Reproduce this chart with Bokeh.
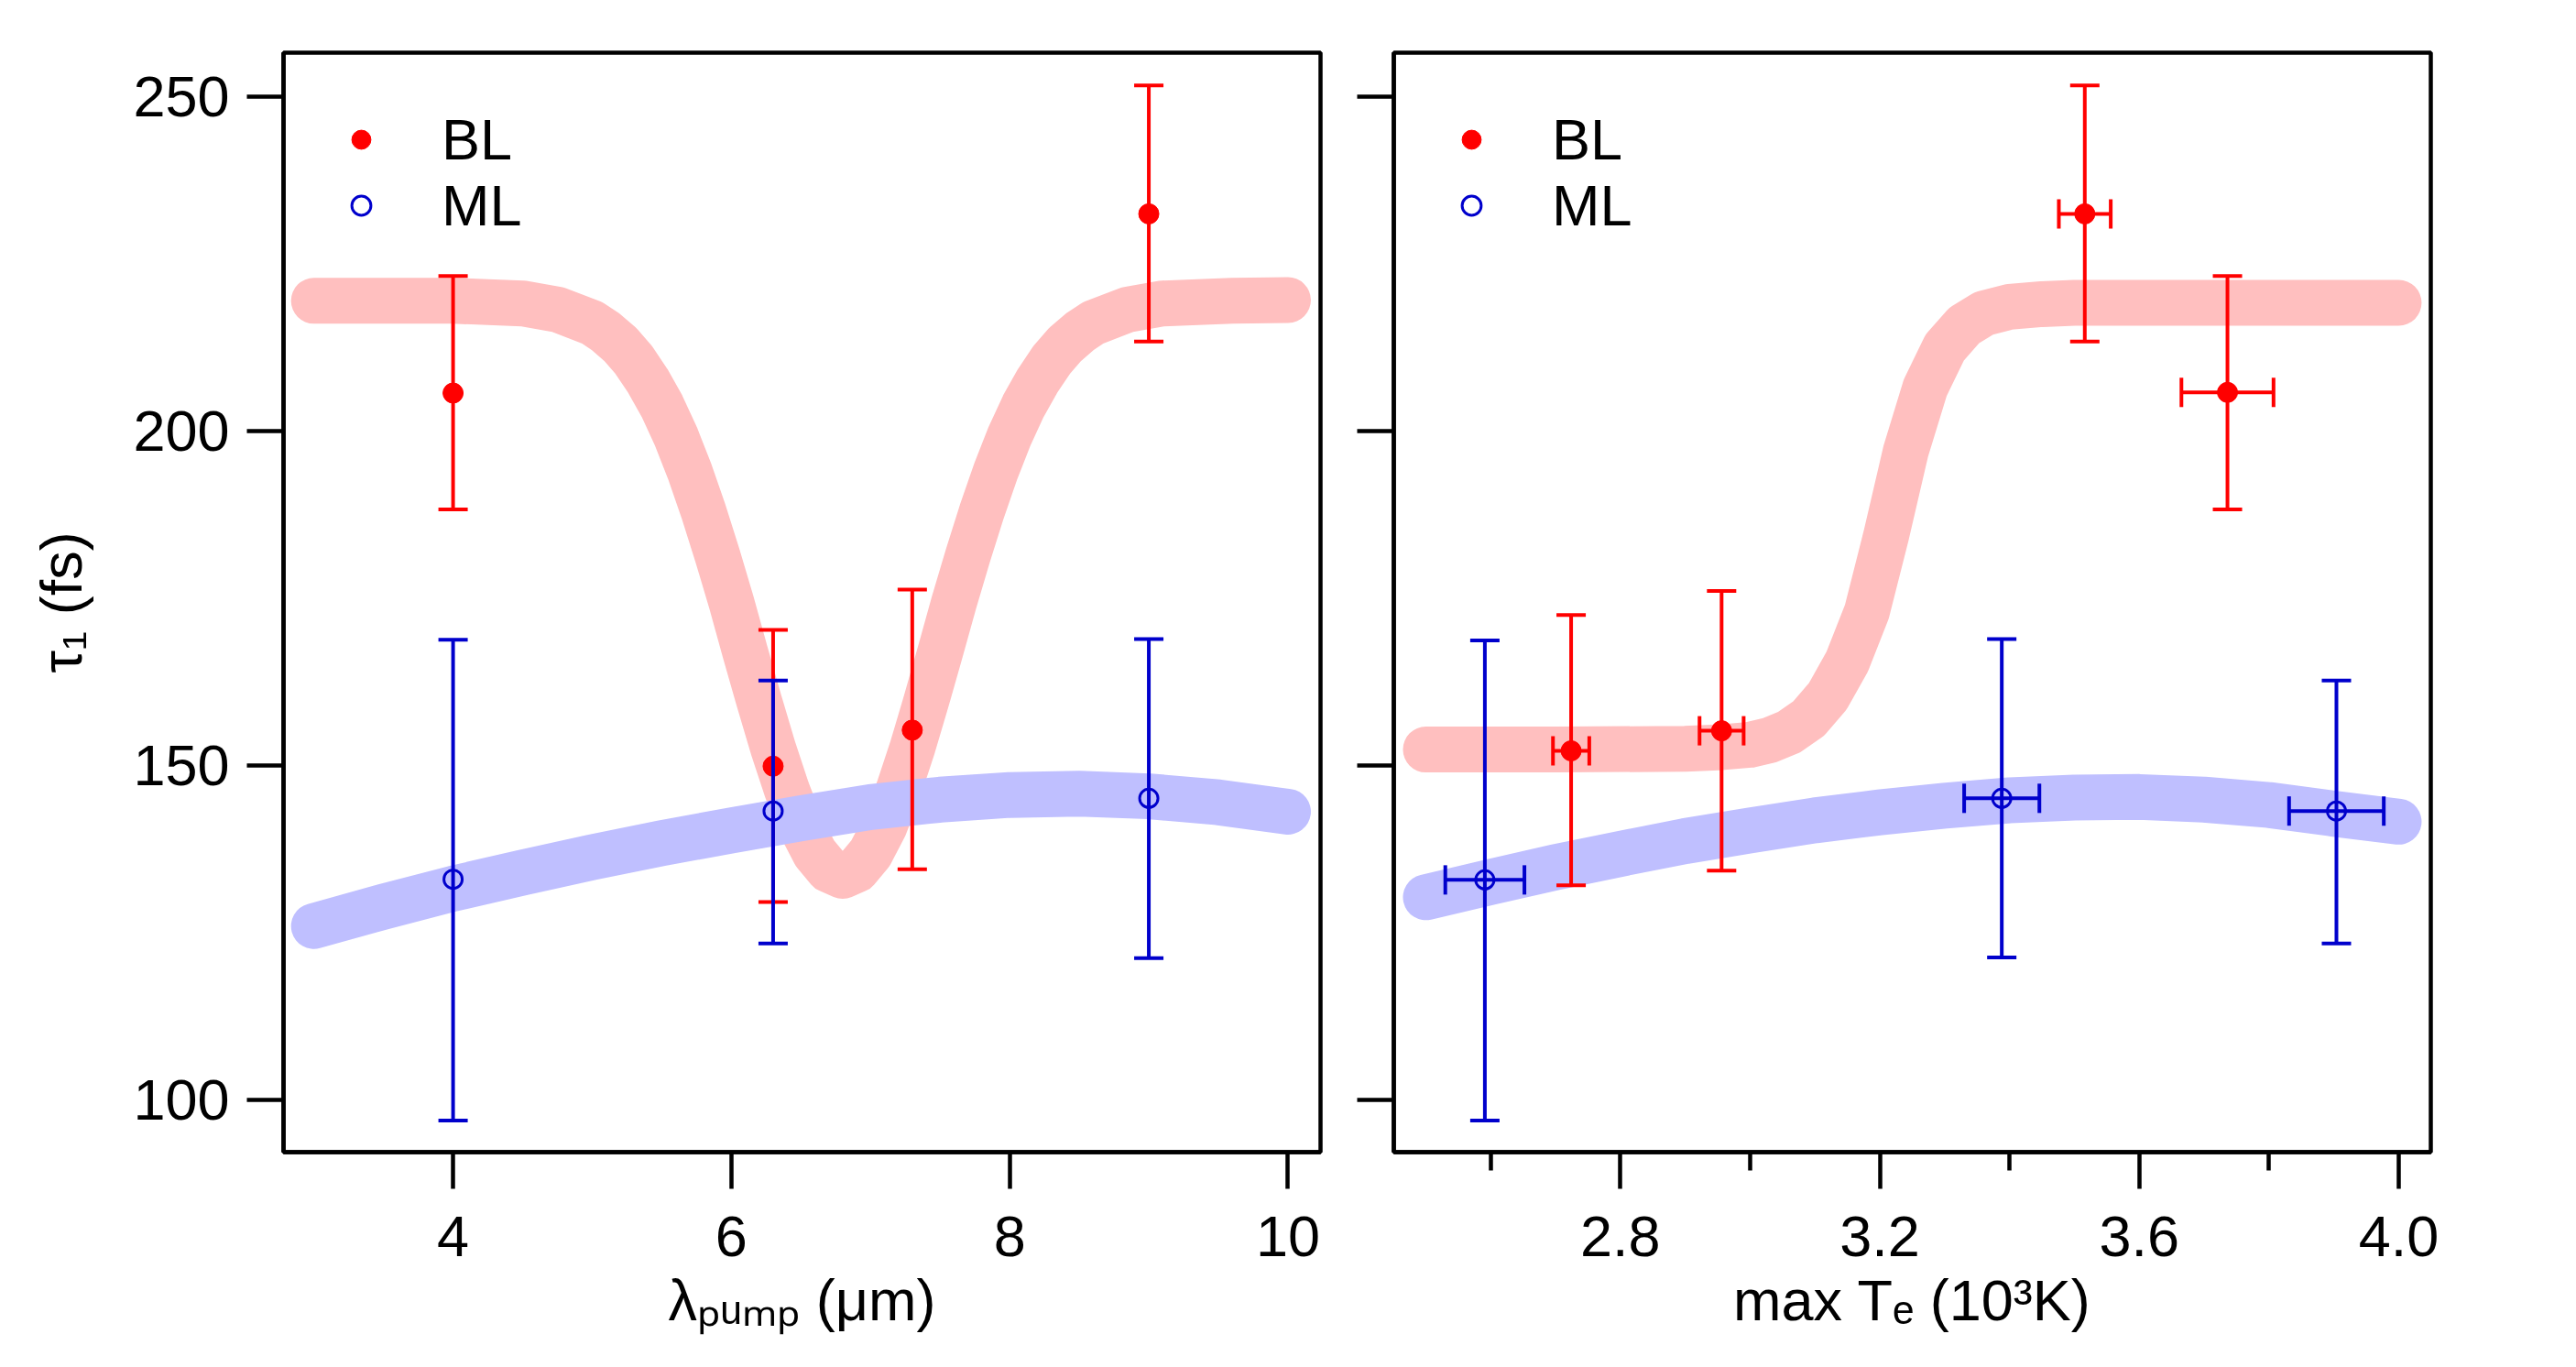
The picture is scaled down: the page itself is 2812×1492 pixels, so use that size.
from bokeh.plotting import figure
from bokeh.layouts import row
from bokeh.models import (Range1d, FixedTicker, Whisker, TeeHead, ColumnDataSource,
                          Legend, LegendItem, NumeralTickFormatter, CustomJSTickFormatter)
from bokeh.embed import file_html
from bokeh.resources import INLINE

# ---------------- data ----------------
# left panel: tau_1 vs pump wavelength (um)
bl_lambda = [4.0, 6.3, 7.3, 9.0]
bl_tau_l = [205.7, 149.9, 155.3, 232.5]
bl_tau_l_lo = [188.3, 129.6, 134.5, 213.4]
bl_tau_l_hi = [223.2, 170.3, 176.3, 251.7]

ml_lambda = [4.0, 6.3, 9.0]
ml_tau_l = [133.0, 143.2, 145.1]
ml_tau_l_lo = [96.9, 123.4, 121.2]
ml_tau_l_hi = [168.8, 162.7, 168.9]

# guide curves, left panel
fit_bl_lambda_x = [3.0, 3.5, 4.0, 4.5, 4.75, 5.0, 5.1, 5.2, 5.3, 5.4, 5.5, 5.6, 5.7, 5.8,
                   5.9, 6.0, 6.1, 6.2, 6.3, 6.4, 6.5, 6.6, 6.7, 6.8, 6.9, 7.0, 7.1, 7.2,
                   7.3, 7.4, 7.5, 7.6, 7.7, 7.8, 7.9, 8.0, 8.1, 8.2, 8.3, 8.4, 8.5, 8.6,
                   8.85, 9.1, 9.6, 10.0]
fit_bl_lambda_y = [219.5, 219.5, 219.5, 219.1, 218.2, 216.2, 214.8, 213.0, 210.6, 207.5,
                   203.8, 199.3, 194.0, 188.0, 181.4, 174.4, 166.9, 159.6, 152.6, 146.3,
                   140.9, 136.9, 134.4, 133.5, 134.4, 136.9, 140.9, 146.3, 152.6, 159.6,
                   166.9, 174.4, 181.4, 188.0, 194.0, 199.3, 203.8, 207.5, 210.6, 213.0,
                   214.8, 216.2, 218.2, 219.1, 219.5, 219.6]
fit_ml_lambda_x = [3.0, 3.5, 4.0, 4.5, 5.0, 5.5, 6.0, 6.5, 7.0, 7.5, 8.0, 8.5, 9.0, 9.5, 10.0]
fit_ml_lambda_y = [126.0, 128.9, 131.6, 134.0, 136.3, 138.4, 140.3, 142.1, 143.8, 144.9,
                   145.6, 145.8, 145.4, 144.5, 143.1]

# right panel: tau_1 vs max electron temperature (10^3 K)
bl_te = [2.724, 2.956, 3.516, 3.736]
bl_te_err = [0.028, 0.034, 0.040, 0.071]
bl_tau_r = [152.2, 155.2, 232.5, 205.8]
bl_tau_r_lo = [132.1, 134.3, 213.4, 188.3]
bl_tau_r_hi = [172.5, 176.1, 251.7, 223.2]

ml_te = [2.591, 3.388, 3.904]
ml_te_err = [0.061, 0.058, 0.073]
ml_tau_r = [132.9, 145.1, 143.2]
ml_tau_r_lo = [96.9, 121.3, 123.4]
ml_tau_r_hi = [168.7, 168.9, 162.7]

fit_bl_te_x = [2.5, 2.7, 2.9, 2.95, 3.0, 3.03, 3.06, 3.09, 3.12, 3.15, 3.18, 3.21, 3.24,
               3.27, 3.30, 3.33, 3.36, 3.40, 3.45, 3.5, 3.7, 4.0]
fit_bl_te_y = [152.4, 152.4, 152.5, 152.7, 153.1, 153.8, 155.0, 157.0, 160.4, 165.6,
               173.0, 184.5, 197.0, 206.5, 212.5, 215.8, 217.6, 218.6, 219.0, 219.2,
               219.2, 219.2]
fit_ml_te_x = [2.5, 2.6, 2.7, 2.8, 2.9, 3.0, 3.1, 3.2, 3.3, 3.4, 3.5, 3.6, 3.7, 3.8, 3.9, 4.0]
fit_ml_te_y = [130.3, 132.6, 134.8, 136.8, 138.7, 140.3, 141.8, 143.0, 144.0, 144.8, 145.2,
               145.3, 144.9, 144.1, 142.8, 141.6]

y_ticks = [100, 150, 200, 250]
x_ticks_left = [4, 6, 8, 10]
x_ticks_right = [2.8, 3.2, 3.6, 4.0]
x_minor_right = [2.6, 3.0, 3.4, 3.8]

x_title_left = "λₚᵤₘₚ (μm)"
x_title_right = "max Tₑ (10³K)"
y_title = "τ₁ (fs)"

# ---------------- style ----------------
FONT = "Liberation Sans"
RED = "#FF0000"
BLUE = "#0000CC"
PINK = "#FFBFBF"
LAVENDER = "#BFBFFF"
TICK_FS = "63px"
TITLE_FS = "63px"
LW = 4.5

Y0, Y1 = 92.19, 256.60
XL = (2.7815, 10.234)
XR = (2.4506, 4.0495)


def make_fig(xr, mbl, mbr):
    p = figure(frame_width=1132, frame_height=1200,
               x_range=Range1d(*xr), y_range=Range1d(Y0, Y1),
               min_border_left=mbl, min_border_right=mbr,
               min_border_top=57, min_border_bottom=220,
               output_backend="svg", toolbar_location=None,
               background_fill_color="white", border_fill_color="white")
    p.xgrid.visible = False
    p.ygrid.visible = False
    p.outline_line_color = "black"
    p.outline_line_width = LW
    p.outline_line_alpha = 1.0
    for ax in (p.xaxis[0], p.yaxis[0]):
        ax.axis_line_color = "black"
        ax.axis_line_width = LW
        ax.major_tick_line_color = "black"
        ax.major_tick_line_width = LW
        ax.major_tick_out = 40
        ax.major_tick_in = 0
        ax.minor_tick_line_color = "black"
        ax.minor_tick_line_width = LW
        ax.minor_tick_out = 20
        ax.minor_tick_in = 0
        ax.major_label_text_font = FONT
        ax.major_label_text_font_size = TICK_FS
        ax.major_label_text_color = "black"
        ax.axis_label_text_font = FONT
        ax.axis_label_text_font_size = TITLE_FS
        ax.axis_label_text_font_style = "normal"
        ax.axis_label_text_color = "black"
    p.yaxis[0].ticker = FixedTicker(ticks=y_ticks, minor_ticks=[])
    p.yaxis[0].major_label_standoff = 19
    p.xaxis[0].major_label_standoff = 30
    p.xaxis[0].axis_label_standoff = 10
    return p


def add_curves(p, bx, by, mx, my):
    p.line(bx, by, line_color=PINK, line_width=50, line_cap="round", line_join="round")
    p.line(mx, my, line_color=LAVENDER, line_width=50, line_cap="round", line_join="round")


def vwhisker(p, x, lo, hi, color):
    src = ColumnDataSource(dict(x=x, lo=lo, hi=hi))
    w = Whisker(source=src, base="x", lower="lo", upper="hi", dimension="height",
                line_color=color, line_width=4, level="overlay",
                upper_head=TeeHead(size=32, line_color=color, line_width=4),
                lower_head=TeeHead(size=32, line_color=color, line_width=4))
    p.add_layout(w)


def hwhisker(p, y, xc, xe, color):
    src = ColumnDataSource(dict(y=y, lo=[c - e for c, e in zip(xc, xe)],
                                hi=[c + e for c, e in zip(xc, xe)]))
    w = Whisker(source=src, base="y", lower="lo", upper="hi", dimension="width",
                line_color=color, line_width=4, level="overlay",
                upper_head=TeeHead(size=32, line_color=color, line_width=4),
                lower_head=TeeHead(size=32, line_color=color, line_width=4))
    p.add_layout(w)


def add_legend(p, r_bl, r_ml):
    leg = Legend(items=[LegendItem(label="BL", renderers=[r_bl]),
                        LegendItem(label="ML", renderers=[r_ml])],
                 location="top_left", margin=59, padding=0, spacing=0,
                 glyph_width=52, glyph_height=72, label_height=72, label_standoff=62,
                 label_text_font=FONT, label_text_font_size=TICK_FS,
                 label_text_color="black",
                 border_line_color=None, background_fill_alpha=0)
    p.add_layout(leg)


# ---------------- left panel ----------------
p1 = make_fig(XL, 309, 20)
p1.xaxis[0].ticker = FixedTicker(ticks=x_ticks_left, minor_ticks=[])
p1.xaxis[0].axis_label = x_title_left
p1.yaxis[0].axis_label = y_title
p1.yaxis[0].axis_label_standoff = 40
add_curves(p1, fit_bl_lambda_x, fit_bl_lambda_y, fit_ml_lambda_x, fit_ml_lambda_y)
vwhisker(p1, bl_lambda, bl_tau_l_lo, bl_tau_l_hi, RED)
vwhisker(p1, ml_lambda, ml_tau_l_lo, ml_tau_l_hi, BLUE)
r1b = p1.scatter(bl_lambda, bl_tau_l, marker="circle", size=22, fill_color=RED, line_color=RED)
r1m = p1.scatter(ml_lambda, ml_tau_l, marker="circle", size=20, fill_color=None,
                 line_color=BLUE, line_width=3)
add_legend(p1, r1b, r1m)

# ---------------- right panel ----------------
p2 = make_fig(XR, 60, 100)
p2.xaxis[0].ticker = FixedTicker(ticks=x_ticks_right, minor_ticks=x_minor_right)
p2.xaxis[0].formatter = NumeralTickFormatter(format="0.0")
p2.xaxis[0].axis_label = x_title_right
p2.yaxis[0].formatter = CustomJSTickFormatter(code="return ''")
p2.yaxis[0].major_label_standoff = 0
add_curves(p2, fit_bl_te_x, fit_bl_te_y, fit_ml_te_x, fit_ml_te_y)
vwhisker(p2, bl_te, bl_tau_r_lo, bl_tau_r_hi, RED)
vwhisker(p2, ml_te, ml_tau_r_lo, ml_tau_r_hi, BLUE)
hwhisker(p2, bl_tau_r, bl_te, bl_te_err, RED)
hwhisker(p2, ml_tau_r, ml_te, ml_te_err, BLUE)
r2b = p2.scatter(bl_te, bl_tau_r, marker="circle", size=22, fill_color=RED, line_color=RED)
r2m = p2.scatter(ml_te, ml_tau_r, marker="circle", size=20, fill_color=None,
                 line_color=BLUE, line_width=3)
add_legend(p2, r2b, r2m)

layout = row(p1, p2)
open("out.html", "w").write(file_html(layout, INLINE))
